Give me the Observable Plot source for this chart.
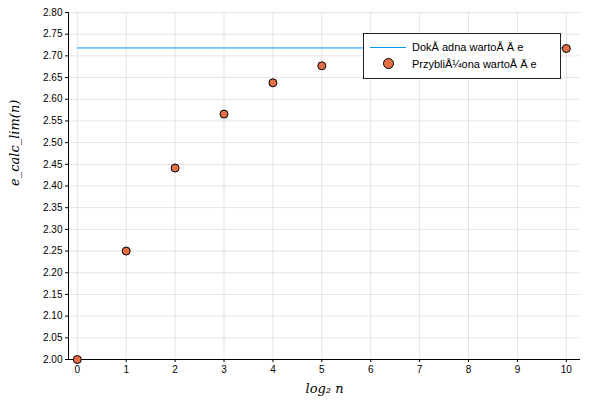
<!DOCTYPE html>
<html><head><meta charset="utf-8">
<script src="https://cdn.jsdelivr.net/npm/d3@7"></script>
<script src="https://cdn.jsdelivr.net/npm/@observablehq/plot@0.6"></script>
<style>
body{margin:0;background:#fff;font-family:"Liberation Sans",sans-serif}
#wrap{position:relative;width:600px;height:400px}
#legend{position:absolute;left:363px;top:33px;width:196px;height:44px;border:1px solid #222;background:#fff;font-size:11px;color:#000}
.row{position:absolute;left:6px;display:flex;align-items:center;height:16px}
</style></head><body>
<div id="wrap"><div id="chart"></div>
<div id="legend">
<div class="row" style="top:5px"><span style="display:inline-block;width:36px;border-top:1px solid #009af9;margin-right:6px"></span>DokÅ adna wartoÅ Ä  e</div>
<div class="row" style="top:22px"><span style="display:inline-block;width:36px;text-align:center;margin-right:6px"><span style="display:inline-block;width:9px;height:9px;border-radius:50%;background:#e26f46;border:1px solid #000"></span></span>PrzybliÅ¼ona wartoÅ Ä  e</div>
</div></div>
<script>
const log2n = [0,1,2,3,4,5,6,7,8,9,10];
const approx = [2.0,2.25,2.4414,2.5658,2.6379,2.6770,2.6973,2.7077,2.7130,2.7156,2.7170];
const exact = 2.718281828;
const yTicks = d3.range(2.0, 2.8001, 0.05);
const data = log2n.map((k,i)=>({k, v: approx[i]}));
const chart = Plot.plot({
  width: 600, height: 400,
  marginLeft: 68, marginRight: 20, marginTop: 12, marginBottom: 41,
  style: {fontFamily: "Liberation Sans, sans-serif", fontSize: "10px"},
  x: {domain: [-0.18, 10.29], ticks: log2n, tickFormat: "d", label: null, tickSize: 0},
  y: {domain: [2.0, 2.8], ticks: yTicks, tickFormat: ".2f", label: null, tickSize: 0},
  marks: [
    Plot.gridX(log2n, {stroke: "#000", strokeOpacity: 0.1}),
    Plot.gridY(yTicks, {stroke: "#000", strokeOpacity: 0.1}),
    Plot.ruleX([-0.18], {stroke: "#000"}),
    Plot.ruleY([2.0], {stroke: "#000"}),
    Plot.axisX(log2n, {tickSize: 3, tickFormat: "d", label: null, tickPadding: 3}),
    Plot.axisY(yTicks, {tickSize: 3, tickFormat: ".2f", label: null, tickPadding: 3}),
    Plot.ruleY([exact], {x1: 0, x2: 10, stroke: "#009af9", strokeWidth: 1}),
    Plot.dot(data, {x: "k", y: "v", r: 4, fill: "#e26f46", stroke: "#000", strokeWidth: 1}),
    Plot.text(["log₂ n"], {frameAnchor: "bottom", dy: 33, fontFamily: "DejaVu Serif", fontStyle: "italic", fontSize: 13}),
    Plot.text(["e_calc_lim(n)"], {frameAnchor: "left", dx: -54, rotate: -90, fontFamily: "DejaVu Serif", fontStyle: "italic", fontSize: 13})
  ]
});
document.getElementById("chart").append(chart);
</script></body></html>
